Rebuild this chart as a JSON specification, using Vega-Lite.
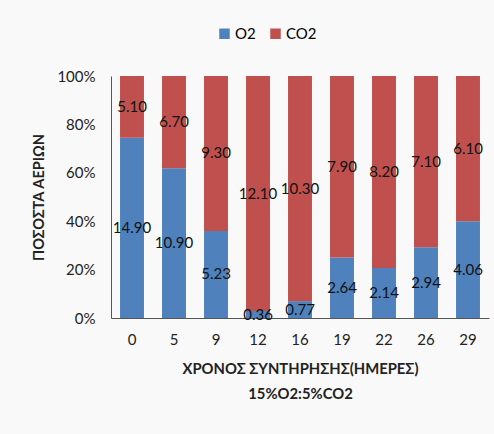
{
  "$schema": "https://vega.github.io/schema/vega-lite/v6.json",
  "width": 378,
  "height": 242,
  "autosize": {"type": "none"},
  "padding": {"left": 111, "top": 76, "right": 5, "bottom": 116},
  "background": "#f9f9f9",
  "config": {
    "view": {"stroke": null},
    "font": "Lato",
    "axis": {"labelFont": "Lato", "titleFont": "Lato", "labelColor": "#222", "titleColor": "#222", "domainColor": "#555", "grid": false, "ticks": false},
    "legend": {"labelFont": "Lato"}
  },
  "data": {
    "values": [
      {"day": "0", "gas": "O2", "value": 14.90},
      {"day": "0", "gas": "CO2", "value": 5.10},
      {"day": "5", "gas": "O2", "value": 10.90},
      {"day": "5", "gas": "CO2", "value": 6.70},
      {"day": "9", "gas": "O2", "value": 5.23},
      {"day": "9", "gas": "CO2", "value": 9.30},
      {"day": "12", "gas": "O2", "value": 0.36},
      {"day": "12", "gas": "CO2", "value": 12.10},
      {"day": "16", "gas": "O2", "value": 0.77},
      {"day": "16", "gas": "CO2", "value": 10.30},
      {"day": "19", "gas": "O2", "value": 2.64},
      {"day": "19", "gas": "CO2", "value": 7.90},
      {"day": "22", "gas": "O2", "value": 2.14},
      {"day": "22", "gas": "CO2", "value": 8.20},
      {"day": "26", "gas": "O2", "value": 2.94},
      {"day": "26", "gas": "CO2", "value": 7.10},
      {"day": "29", "gas": "O2", "value": 4.06},
      {"day": "29", "gas": "CO2", "value": 6.10}
    ]
  },
  "transform": [
    {"stack": "value", "groupby": ["day"], "offset": "normalize", "sort": [{"field": "gas", "order": "descending"}], "as": ["y0", "y1"]}
  ],
  "encoding": {
    "x": {
      "field": "day", "type": "ordinal", "sort": ["0", "5", "9", "12", "16", "19", "22", "26", "29"],
      "scale": {"paddingInner": 0.43, "paddingOuter": 0.215},
      "axis": {"labelAngle": 0, "labelFontSize": 15, "labelPadding": 14, "title": ["ΧΡΟΝΟΣ ΣΥΝΤΗΡΗΣΗΣ(ΗΜΕΡΕΣ)", "15%Ο2:5%CO2"], "titleFontSize": 14.8, "titleFontWeight": "bold", "titlePadding": 14, "titleLineHeight": 25}
    }
  },
  "layer": [
    {
      "mark": {"type": "bar"},
      "encoding": {
        "y": {"field": "y0", "type": "quantitative", "scale": {"domain": [0, 1]}, "axis": {"format": "%", "values": [0, 0.2, 0.4, 0.6, 0.8, 1], "labelFontSize": 15, "labelPadding": 16, "title": "ΠΟΣΟΣΤΑ ΑΕΡΙΩΝ", "titleFontSize": 14.5, "titleFontWeight": "bold", "titlePadding": 10}},
        "y2": {"field": "y1"},
        "color": {
          "field": "gas", "type": "nominal",
          "scale": {"domain": ["O2", "CO2"], "range": ["#4F81BD", "#C0504D"]},
          "legend": {"title": null, "orient": "none", "direction": "horizontal", "legendX": 106, "legendY": -50, "symbolType": "square", "symbolSize": 110, "labelFontSize": 15, "columnPadding": 12, "labelOffset": 3}
        }
      }
    },
    {
      "transform": [
        {"fold": ["y0", "y1"], "as": ["edge", "pos"]},
        {"aggregate": [{"op": "mean", "field": "pos", "as": "mid"}], "groupby": ["day", "gas", "value"]}
      ],
      "mark": {"type": "text", "fontSize": 15, "color": "#111", "font": "Lato"},
      "encoding": {
        "y": {"field": "mid", "type": "quantitative"},
        "text": {"field": "value", "type": "quantitative", "format": ".2f"}
      }
    }
  ]
}
